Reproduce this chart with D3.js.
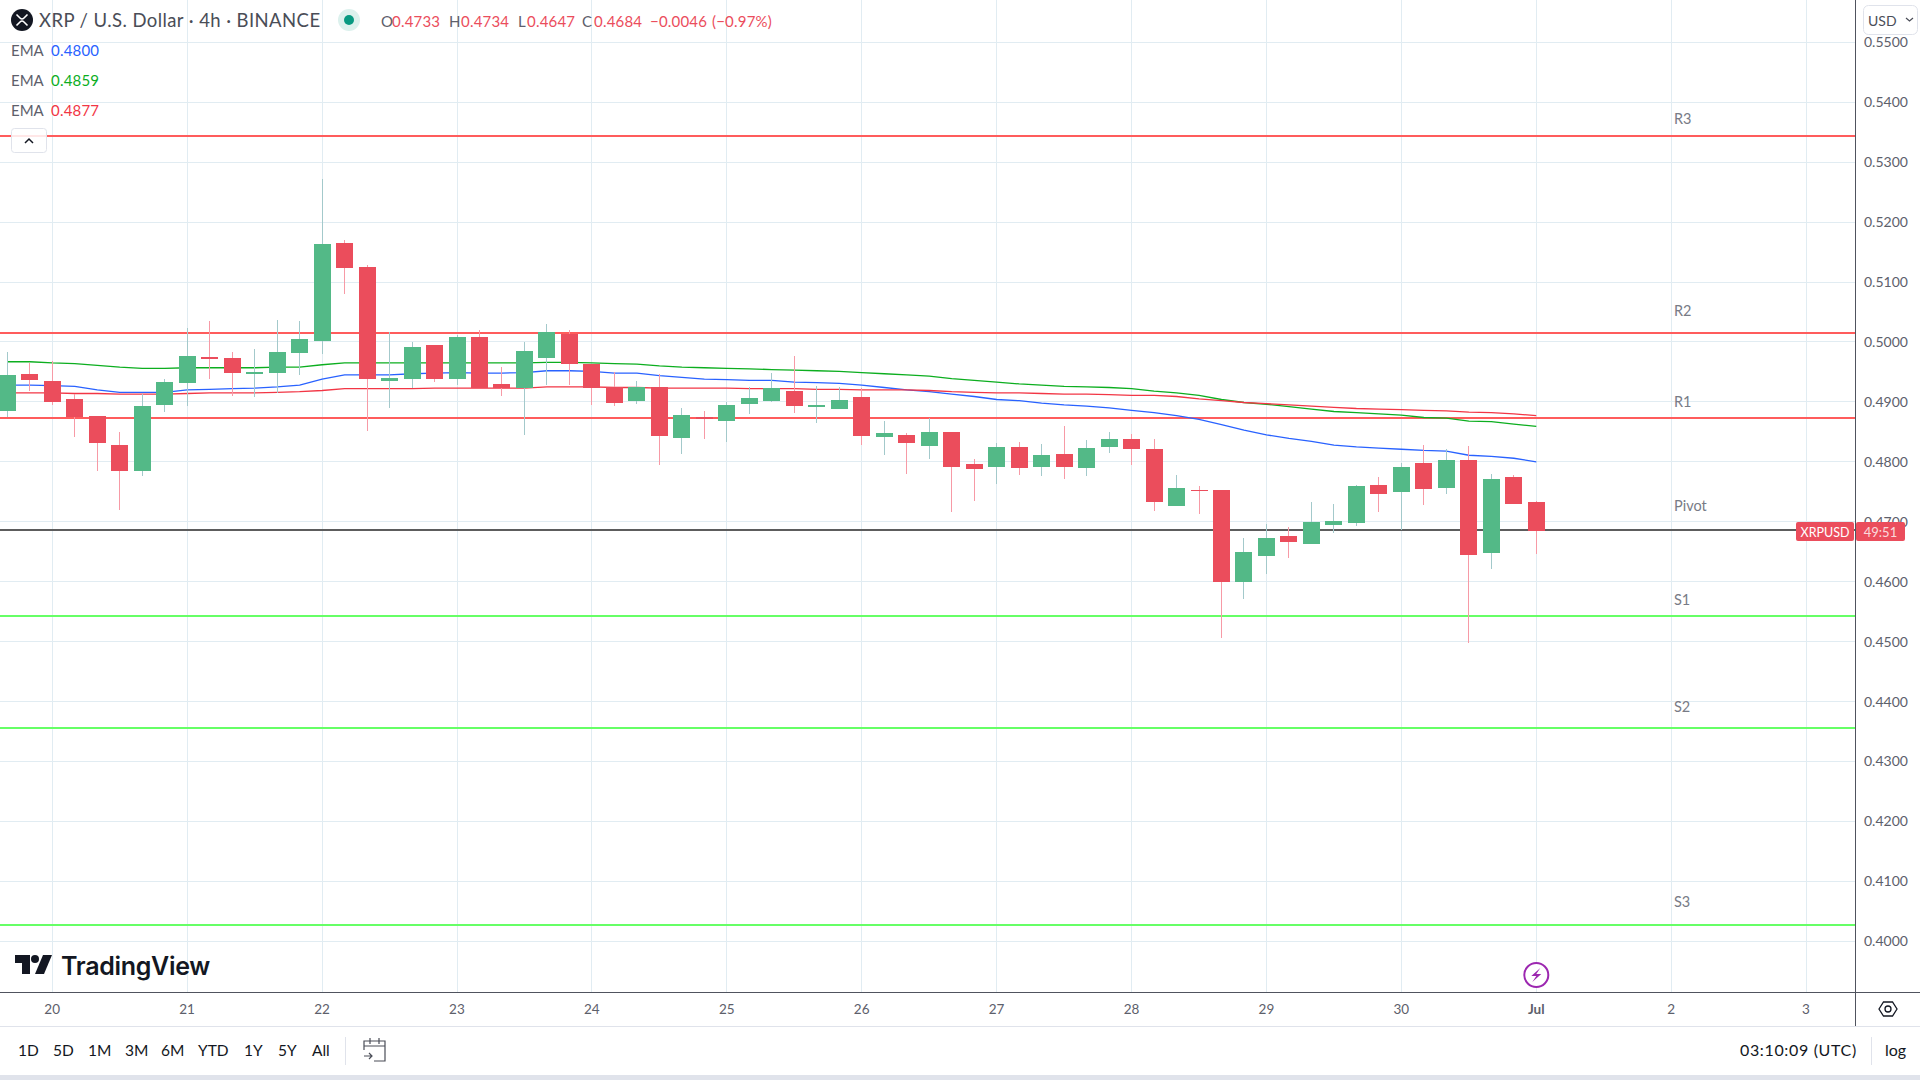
<!DOCTYPE html>
<html>
<head>
<meta charset="utf-8">
<title>XRP / U.S. Dollar 4h</title>
<script src="https://cdn.jsdelivr.net/npm/d3@7"></script>
<style>
  html, body { margin: 0; padding: 0; background: #fff; overflow: hidden; }
  svg { display: block; }
  text { font-family: Lato, "Noto Sans", sans-serif; }
</style>
</head>
<body>
<svg id="chart" width="1920" height="1080"></svg>
<script>
// 4h candles, first one is 19 Jun 16:00 UTC
const opens = [.4885,.4947,.4935,.4905,.4877,.4828,.4785,.4895,.4932,.4975,.4973,.4947,.4948,.4982,.5002,.5165,.5125,.4935,.4938,.4995,.4938,.5008,.4930,.4923,.4973,.5013,.4963,.4925,.4902,.4925,.4840,.4875,.4868,.4897,.4902,.4918,.4892,.4888,.4908,.4842,.4845,.4827,.4850,.4796,.4791,.4825,.4791,.4813,.4790,.4825,.4838,.4822,.4726,.4753,.4753,.4600,.4643,.4676,.4663,.4695,.4698,.4761,.4750,.4798,.4756,.4803,.4648,.4775,.4733];
const highs = [.4983,.4965,.4968,.4913,.4877,.4850,.4913,.4938,.5023,.5035,.4983,.4988,.5037,.5035,.5272,.5170,.5129,.5017,.5000,.4995,.5012,.5020,.4958,.5000,.5030,.5020,.4963,.4950,.4935,.4947,.4890,.4885,.4900,.4925,.4948,.4977,.4927,.4925,.4923,.4868,.4848,.4873,.4850,.4805,.4832,.4833,.4830,.4860,.4837,.4850,.4846,.4838,.4778,.4760,.4753,.4673,.4696,.4691,.4733,.4730,.4761,.4775,.4798,.4828,.4821,.4826,.4780,.4778,.4734];
const lows = [.4874,.4919,.4895,.4841,.4785,.4720,.4776,.4883,.4893,.4938,.4910,.4908,.4915,.4945,.4980,.5080,.4851,.4890,.4923,.4933,.4928,.4923,.4910,.4845,.4928,.4928,.4895,.4893,.4897,.4795,.4813,.4838,.4833,.4880,.4900,.4882,.4865,.4888,.4828,.4811,.4780,.4805,.4716,.4735,.4763,.4778,.4776,.4771,.4776,.4815,.4795,.4718,.4726,.4713,.4506,.4571,.4613,.4640,.4663,.4681,.4693,.4716,.4686,.4728,.4746,.4498,.4621,.4730,.4647];
const closes = [.4945,.4937,.4900,.4875,.4832,.4785,.4893,.4933,.4977,.4972,.4948,.4950,.4983,.5005,.5164,.5123,.4938,.4940,.4992,.4938,.5008,.4923,.4923,.4985,.5017,.4963,.4923,.4898,.4925,.4843,.4878,.4872,.4895,.4907,.4923,.4893,.4895,.4903,.4843,.4848,.4832,.4850,.4791,.4788,.4825,.4790,.4811,.4791,.4823,.4838,.4822,.4733,.4756,.4751,.4600,.4650,.4673,.4666,.4700,.4701,.4760,.4746,.4791,.4755,.4803,.4645,.4771,.4730,.4684];

const emaBlue = [.4928,.4928,.4927,.4926,.4920,.4916,.4916,.4916,.4920,.4921,.4922,.4923,.4925,.4928,.4938,.4945,.4945,.4945,.4947,.4948,.4949,.4948,.4948,.4949,.4952,.4952,.4951,.4948,.4948,.4944,.4941,.4938,.4937,.4936,.4936,.4933,.4932,.4931,.4928,.4924,.4920,.4917,.4913,.4909,.4904,.4902,.4898,.4895,.4893,.4890,.4886,.4882,.4877,.4871,.4862,.4853,.4845,.4839,.4834,.4828,.4825,.4823,.4821,.4819,.4818,.4811,.4809,.4806,.4800];
const emaGreen = [.4967,.4967,.4965,.4964,.4961,.4958,.4956,.4956,.4957,.4957,.4957,.4957,.4958,.4958,.4962,.4965,.4965,.4965,.4965,.4965,.4965,.4965,.4965,.4965,.4966,.4966,.4965,.4964,.4963,.4960,.4958,.4957,.4956,.4955,.4954,.4953,.4952,.4951,.4949,.4947,.4945,.4943,.4939,.4936,.4933,.4930,.4928,.4926,.4925,.4924,.4922,.4918,.4915,.4911,.4904,.4899,.4896,.4892,.4888,.4884,.4882,.4880,.4878,.4874,.4873,.4868,.4867,.4863,.4859];
const emaRed = [.4915,.4915,.4915,.4914,.4914,.4913,.4913,.4913,.4914,.4915,.4915,.4915,.4916,.4917,.4919,.4922,.4922,.4922,.4922,.4923,.4923,.4923,.4923,.4923,.4925,.4925,.4925,.4924,.4924,.4923,.4923,.4923,.4923,.4922,.4922,.4922,.4921,.4921,.4920,.4920,.4920,.4919,.4917,.4916,.4915,.4915,.4914,.4913,.4913,.4912,.4911,.4911,.4909,.4905,.4902,.4899,.4897,.4895,.4893,.4891,.4889,.4888,.4887,.4886,.4885,.4883,.4882,.4880,.4877];

const pivotNames = ["R3", "R2", "R1", "Pivot", "S1", "S2", "S3"];
const pivotValues = [.5344, .5015, .4873, .4686, .4543, .4356, .4027];

const priceTicks = d3.range(40, 56).map((d) => d / 100);
const dayTicks = ["2023-06-20","2023-06-21","2023-06-22","2023-06-23","2023-06-24","2023-06-25","2023-06-26","2023-06-27","2023-06-28","2023-06-29","2023-06-30","2023-07-01","2023-07-02","2023-07-03"].map((d) => new Date(d + "T00:00:00Z"));
const rangeButtons = ["1D", "5D", "1M", "3M", "6M", "YTD", "1Y", "5Y", "All"];

const C = {
  up: "#53b987", down: "#eb4d5c", upWick: "#a3c9cb", downWick: "#f79aa6",
  grid: "#e1ecf2", border: "#50535e", text: "#5d606b", dark: "#131722",
  pivotUp: "#ff5c5c", pivotDown: "#66ff66", pivotMid: "#5d5d5d",
  blue: "#2962ff", green: "#0cae1f", red: "#f23645", sep: "#e0e3eb",
};

const paneRight = 1855, paneBottom = 992, axisBottom = 1026;

const svg = d3.select("#chart");
const y = d3.scaleLinear().domain([0.4, 0.55]).range([941.3, 42.3]);
const x = d3.scaleUtc()
  .domain([new Date("2023-06-20T00:00:00Z"), new Date("2023-07-01T00:00:00Z")])
  .range([52.3, 1536.3]);

const firstBar = new Date("2023-06-19T16:00:00Z").getTime();
const barTime = (i) => new Date(firstBar + i * 4 * 3600 * 1000);
const snap = (v) => Math.floor(v);

// grid
const grid = svg.append("g").attr("shape-rendering", "crispEdges");
grid.selectAll(".h").data(priceTicks).join("line")
  .attr("x1", 0).attr("x2", paneRight)
  .attr("y1", (d) => snap(y(d)) + 0.5).attr("y2", (d) => snap(y(d)) + 0.5)
  .attr("stroke", C.grid);
grid.selectAll(".v").data(dayTicks).join("line")
  .attr("y1", 0).attr("y2", paneBottom)
  .attr("x1", (d) => snap(x(d)) + 0.5).attr("x2", (d) => snap(x(d)) + 0.5)
  .attr("stroke", C.grid);

// pivot levels
const pivotColor = (d, i) => (i < 3 ? C.pivotUp : i === 3 ? C.pivotMid : C.pivotDown);
svg.append("g").attr("shape-rendering", "crispEdges")
  .selectAll("line").data(pivotValues).join("line")
  .attr("x1", 0).attr("x2", paneRight)
  .attr("y1", (d) => y(d)).attr("y2", (d) => y(d))
  .attr("stroke", pivotColor).attr("stroke-width", 2);

const labelLift = [17, 22, 16, 24, 16, 21, 23];
svg.append("g").selectAll("text").data(pivotNames).join("text")
  .attr("x", 1674)
  .attr("y", (d, i) => y(pivotValues[i]) - labelLift[i])
  .attr("dy", "0.35em")
  .attr("font-size", 14.5).attr("fill", "#787b86")
  .text((d) => d);

// EMAs
const emaLine = d3.line().x((d, i) => x(barTime(i))).y((d) => y(d));
[[emaBlue, C.blue], [emaGreen, C.green], [emaRed, C.red]].forEach(([vals, col]) => {
  svg.append("path").datum(vals)
    .attr("d", emaLine).attr("fill", "none")
    .attr("stroke", col).attr("stroke-width", 1.3);
});

// candles
const bars = d3.range(opens.length);
const isUp = (i) => closes[i] >= opens[i];
const candles = svg.append("g").attr("shape-rendering", "crispEdges");
candles.selectAll(".wick").data(bars).join("rect")
  .attr("x", (i) => snap(x(barTime(i))))
  .attr("width", 1)
  .attr("y", (i) => y(highs[i]))
  .attr("height", (i) => y(lows[i]) - y(highs[i]))
  .attr("fill", (i) => (isUp(i) ? C.upWick : C.downWick));
candles.selectAll(".body").data(bars).join("rect")
  .attr("x", (i) => snap(x(barTime(i))) - 8)
  .attr("width", 17)
  .attr("y", (i) => y(Math.max(opens[i], closes[i])))
  .attr("height", (i) => Math.max(1, Math.abs(y(opens[i]) - y(closes[i]))))
  .attr("fill", (i) => (isUp(i) ? C.up : C.down));

// price axis
const yAxis = d3.axisRight(y).tickValues(priceTicks).tickSize(0).tickPadding(9)
  .tickFormat(d3.format(".4f"));
const yG = svg.append("g").attr("transform", `translate(${paneRight},0)`).call(yAxis);
yG.select(".domain").remove();
yG.selectAll("text").attr("font-size", 14).attr("fill", C.text).style("font-family", "Lato");

// time axis
const xAxis = d3.axisBottom(x).tickValues(dayTicks).tickSize(0).tickPadding(12)
  .tickFormat((d) => (d.getUTCDate() === 1 ? "Jul" : d.getUTCDate()));
const xG = svg.append("g").attr("transform", `translate(-0.6,${paneBottom})`).call(xAxis);
xG.select(".domain").remove();
xG.selectAll("text").attr("font-size", 13.5).attr("fill", C.text).style("font-family", "Lato")
  .attr("font-weight", (d) => (d.getUTCDate() === 1 ? 700 : 400));

// frame lines
const frame = svg.append("g").attr("shape-rendering", "crispEdges");
frame.append("line").attr("x1", 0).attr("x2", 1920).attr("y1", paneBottom + 0.5).attr("y2", paneBottom + 0.5).attr("stroke", C.border);
frame.append("line").attr("x1", paneRight + 0.5).attr("x2", paneRight + 0.5).attr("y1", 0).attr("y2", axisBottom).attr("stroke", C.border);
frame.append("line").attr("x1", 0).attr("x2", 1920).attr("y1", axisBottom + 0.5).attr("y2", axisBottom + 0.5).attr("stroke", C.sep);
frame.append("rect").attr("x", 0).attr("y", 1075).attr("width", 1920).attr("height", 5).attr("fill", "#e0e3eb");

// last price tag
const tagY = 522;
svg.append("rect").attr("x", 1796).attr("y", tagY).attr("width", 58).attr("height", 19).attr("rx", 2).attr("fill", C.down);
svg.append("rect").attr("x", 1856).attr("y", tagY).attr("width", 49).attr("height", 19).attr("rx", 2).attr("fill", C.down);
svg.append("text").attr("x", 1825).attr("y", tagY + 15).attr("text-anchor", "middle").attr("font-size", 12.5).attr("fill", "#fff").text("XRPUSD");
svg.append("text").attr("x", 1880.5).attr("y", tagY + 15).attr("text-anchor", "middle").attr("font-size", 13).attr("fill", "#fff").attr("fill-opacity", 0.8).text("49:51");

// header
const head = svg.append("g");
head.append("circle").attr("cx", 22).attr("cy", 20).attr("r", 11).attr("fill", "#131722");
head.append("path").attr("d", "M16.5 14.5 L20 18 Q22 20 24 18 L27.5 14.5 M16.5 25.5 L20 22 Q22 20 24 22 L27.5 25.5")
  .attr("fill", "none").attr("stroke", "#fff").attr("stroke-width", 1.6);
head.append("text").attr("x", 39).attr("y", 27).attr("font-size", 18.5).attr("letter-spacing", 0.42).attr("fill", "#4a4d57")
  .text("XRP / U.S. Dollar · 4h · BINANCE");
head.append("circle").attr("cx", 349).attr("cy", 20).attr("r", 11).attr("fill", "#dcf1ed");
head.append("circle").attr("cx", 349).attr("cy", 20).attr("r", 5).attr("fill", "#089981");

const ohlc = [
  [381, "O", "#5d606b"], [392, "0.4733", C.down], [449, "H", "#5d606b"], [461, "0.4734", C.down],
  [518, "L", "#5d606b"], [527, "0.4647", C.down], [582, "C", "#5d606b"], [594, "0.4684", C.down],
  [650, "−0.0046", C.down], [712, "(−0.97%)", C.down],
];
head.selectAll(".ohlc").data(ohlc).join("text")
  .attr("x", (d) => d[0]).attr("y", 27).attr("font-size", 15).attr("letter-spacing", 0.2).attr("fill", (d) => d[2]).text((d) => d[1]);

// legend
const legendVals = [["0.4800", C.blue], ["0.4859", C.green], ["0.4877", C.red]];
legendVals.forEach(([val, col], i) => {
  const ly = 56 + i * 30;
  head.append("text").attr("x", 11).attr("y", ly).attr("font-size", 15).attr("fill", "#5d606b").text("EMA");
  head.append("text").attr("x", 51).attr("y", ly).attr("font-size", 15).attr("letter-spacing", 0.2).attr("fill", col).text(val);
});
head.append("rect").attr("x", 11.5).attr("y", 128.5).attr("width", 35).attr("height", 24).attr("rx", 3)
  .attr("fill", "#fff").attr("fill-opacity", 0.85).attr("stroke", "#e0e3eb");
head.append("path").attr("d", "M25 143 L29 139 L33 143").attr("fill", "none").attr("stroke", "#131722").attr("stroke-width", 1.5);

// currency button
head.append("rect").attr("x", 1863.5).attr("y", 5.5).attr("width", 54).attr("height", 29).attr("rx", 5)
  .attr("fill", "#fff").attr("stroke", "#e0e3eb");
head.append("text").attr("x", 1868).attr("y", 26).attr("font-size", 14).attr("fill", "#4a4d57").text("USD");
head.append("path").attr("d", "M1906 18 L1909.5 21 L1913 18").attr("fill", "none").attr("stroke", "#4a4d57").attr("stroke-width", 1.2);

// logo
const logo = svg.append("g").attr("transform", "translate(15,955)").attr("fill", C.dark);
logo.append("path").attr("d", "M0 0 H15 V19 H7 V8 H0 Z");
logo.append("circle").attr("cx", 20).attr("cy", 4).attr("r", 4);
logo.append("path").attr("d", "M28 0 H37 L29 19 H20 Z");
svg.append("text").attr("x", 61).attr("y", 975).attr("font-size", 25).attr("font-weight", 600)
  .attr("fill", C.dark).style("font-family", "Inter").attr("letter-spacing", -0.3).text("TradingView");

// session marker
const mark = svg.append("g").attr("transform", `translate(${x(new Date("2023-07-01T00:00:00Z"))},975)`);
mark.append("circle").attr("r", 12).attr("fill", "#fff").attr("stroke", "#9c27b0").attr("stroke-width", 2);
mark.append("path").attr("d", "M4 -7 L-5 1 L0 1 L-4 7 L5 -1 L0 -1 Z").attr("fill", "#9c27b0");

// settings hexagon
svg.append("path").attr("d", "M1879 1009 L1883.5 1002 H1892.5 L1897 1009 L1892.5 1016 H1883.5 Z")
  .attr("fill", "none").attr("stroke", "#131722").attr("stroke-width", 1.3);
svg.append("circle").attr("cx", 1888).attr("cy", 1009).attr("r", 3).attr("fill", "none").attr("stroke", "#131722").attr("stroke-width", 1.3);

// bottom toolbar
const buttonX = [18, 53, 88, 125, 161, 198, 244, 278, 312];
const toolbar = svg.append("g");
toolbar.selectAll(".btn").data(rangeButtons).join("text")
  .attr("x", (d, i) => buttonX[i]).attr("y", 1056).attr("font-size", 15.5).attr("fill", C.dark).text((d) => d);
toolbar.append("line").attr("x1", 345.5).attr("x2", 345.5).attr("y1", 1037).attr("y2", 1065).attr("stroke", C.sep);
toolbar.append("path").attr("d", "M364 1050 V1041 H385 V1061 H374 M364 1046 H385 M370 1038 V1044 M379 1038 V1044 M364 1056 H372 M369 1053 L372 1056 L369 1059")
  .attr("fill", "none").attr("stroke", "#4a4d57").attr("stroke-width", 1.2);
toolbar.append("text").attr("x", 1740).attr("y", 1056).attr("font-size", 16).attr("letter-spacing", 0.65).attr("fill", C.dark).text("03:10:09 (UTC)");
toolbar.append("line").attr("x1", 1871.5).attr("x2", 1871.5).attr("y1", 1037).attr("y2", 1065).attr("stroke", C.sep);
toolbar.append("text").attr("x", 1885).attr("y", 1056).attr("font-size", 16).attr("fill", C.dark).text("log");
</script>
</body>
</html>
